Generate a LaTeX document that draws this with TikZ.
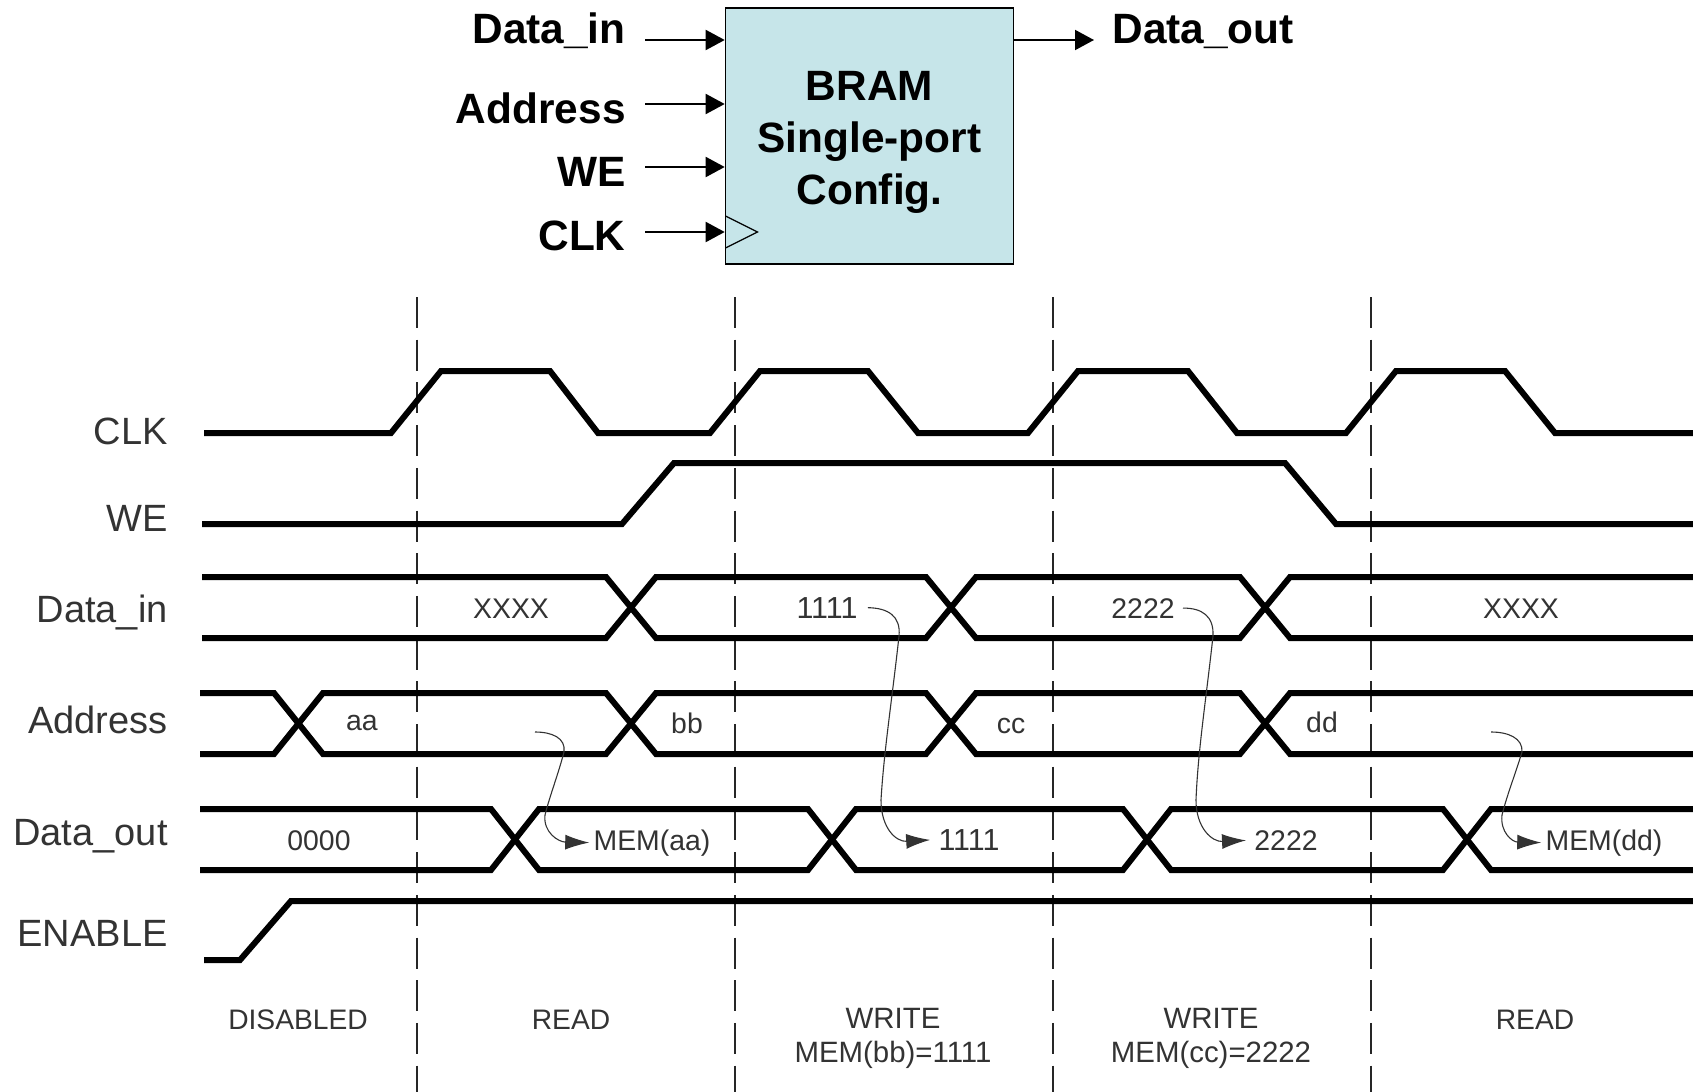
\documentclass[tikz,border=0pt]{standalone}
\usepackage{xcolor}
\usepackage{fontspec}
\setmainfont{Liberation Sans}
\usepackage{tikz}
\usetikzlibrary{arrows.meta,calc}
\definecolor{BoxFill}{HTML}{C6E5E9}
\definecolor{Ink}{HTML}{333333}
\tikzset{
  bram/.style={draw=black,fill=BoxFill,line width=0.8pt,minimum width=144pt,minimum height=128pt,inner sep=0pt},
  bramtext/.style={inner sep=0pt,align=center,font=\fontsize{21.2}{26}\selectfont\bfseries},
  port/.style={inner sep=0pt,font=\fontsize{21.2}{26}\selectfont\bfseries},
  signal/.style={inner sep=0pt,anchor=base east,text=Ink,font=\fontsize{19}{23}\selectfont},
  value/.style={inner sep=1pt,anchor=base,text=Ink,font=\fontsize{14.2}{15.5}\selectfont},
  ones/.style={value,font=\fontsize{15.2}{16}\selectfont},
  phase/.style={inner sep=0pt,anchor=base,align=center,text=Ink,font=\fontsize{14.1}{15.5}\selectfont},
  writephase/.style={phase,font=\fontsize{14.7}{16.7}\selectfont},
  portline/.style={-{Triangle[length=9.5pt,width=10pt]},line width=1pt},
  wave/.style={line width=3pt,miter limit=10},
  boundary/.style={line width=1.2pt,color=black!85,dash pattern=on 15.5pt off 5.85pt},
  cause/.style={-{Latex[length=12pt,width=7.5pt]},line width=0.55pt,color=Ink}
}
\begin{document}
\begin{tikzpicture}[x=0.5pt,y=-0.5pt]
  \useasboundingbox (0,0) rectangle (1693,1092);
  \foreach \xpos in {417,735,1053,1371} {
    \draw[boundary] (\xpos,297) -- (\xpos,1092);
  }
  \node[bram] (box) at (869.5,136) {};
  \node[bramtext] (boxtext) at ($(box.center)+(0,6.5)$) {BRAM\\Single-port\\Config.};
  \node[port,anchor=base east] (dinlabel) at (626,43) {Data\_in};
  \node[port,anchor=base east] (addrlabel) at (626,123) {Address};
  \node[port,anchor=base east] (welabel) at (626,186) {WE};
  \node[port,anchor=base east] (clklabel) at (626,250) {CLK};
  \node[port,anchor=base west] (doutlabel) at (1112,43) {Data\_out};
  \coordinate (dinfrom) at (645,40);
  \coordinate (addrfrom) at (645,104);
  \coordinate (wefrom) at (645,167);
  \coordinate (clkfrom) at (645,232);
  \coordinate (doutto) at (1094,40);
  \draw[portline] (dinfrom) -- (box.west |- dinfrom);
  \draw[portline] (addrfrom) -- (box.west |- addrfrom);
  \draw[portline] (wefrom) -- (box.west |- wefrom);
  \draw[portline] (clkfrom) -- (box.west |- clkfrom);
  \draw[portline] (box.east |- doutto) -- (doutto);
  \draw[line width=0.6pt] (725.5,216) -- (757.5,232) -- (725.5,248);
  \node[signal] (clksig) at (168,444) {CLK};
  \node[signal] (wesig) at (168,531) {WE};
  \node[signal] (dinsig) at (168,622) {Data\_in};
  \node[signal] (addrsig) at (168,733) {Address};
  \node[signal] (doutsig) at (168,845) {Data\_out};
  \node[signal] (ensig) at (168,946) {ENABLE};
  \draw[wave] (204,433) -- (391,433) -- (441,371) -- (550,371) -- (598,433) -- (710,433) -- (760,371) -- (868,371) -- (918,433) -- (1028,433) -- (1078,371) -- (1188,371) -- (1237,433) -- (1346,433) -- (1396,371) -- (1505,371) -- (1555,433) -- (1693,433);
  \draw[wave] (202,524) -- (622,524) -- (674,463) -- (1285,463) -- (1336,524) -- (1693,524);
  \draw[wave] (202,577) -- (606,577) -- (656,638) -- (926,638) -- (976,577) -- (1240,577) -- (1290,638) -- (1693,638);
  \draw[wave] (202,638) -- (606,638) -- (656,577) -- (926,577) -- (976,638) -- (1240,638) -- (1290,577) -- (1693,577);
  \draw[wave] (200,693) -- (274,693) -- (323,754) -- (606,754) -- (656,693) -- (926,693) -- (976,754) -- (1240,754) -- (1290,693) -- (1693,693);
  \draw[wave] (200,754) -- (274,754) -- (323,693) -- (606,693) -- (656,754) -- (926,754) -- (976,693) -- (1240,693) -- (1290,754) -- (1693,754);
  \draw[wave] (200,809) -- (491,809) -- (539,870) -- (808,870) -- (856,809) -- (1123,809) -- (1171,870) -- (1443,870) -- (1491,809) -- (1693,809);
  \draw[wave] (200,870) -- (491,870) -- (539,809) -- (808,809) -- (856,870) -- (1123,870) -- (1171,809) -- (1443,809) -- (1491,870) -- (1693,870);
  \draw[wave] (204,960) -- (240,960) -- (291,901) -- (1693,901);
  \node[value] (dinx) at (511,618) {XXXX};
  \node[ones] (din1) at (827,618) {1111};
  \node[value] (din2) at (1143,618) {2222};
  \node[value] (diny) at (1521,618) {XXXX};
  \node[value] (addra) at (362,730) {aa};
  \node[value] (addrb) at (687,733) {bb};
  \node[value] (addrc) at (1011,733) {cc};
  \node[value] (addrd) at (1322,732) {dd};
  \node[value] (dout0) at (319,850) {0000};
  \node[value] (memaa) at (652,850) {MEM(aa)};
  \node[ones] (dout1) at (969,850) {1111};
  \node[value] (dout2) at (1286,850) {2222};
  \node[value] (memdd) at (1604,850) {MEM(dd)};
  \coordinate (readaa) at (535,732);
  \coordinate (readdd) at (1491,732);
  \draw[cause,shorten >=1pt] (readaa) .. controls (552,732) and (566,738) .. (564,752) .. controls (558,775) and (550,795) .. (545,815) .. controls (543,832) and (558,842) .. (memaa.west);
  \draw[cause,shorten <=4pt,shorten >=3pt] (din1.east) .. controls (888,608) and (901,616) .. (899,636) .. controls (892,700) and (884,750) .. (881,800) .. controls (881,828) and (896,842) .. (dout1.west);
  \draw[cause,shorten <=3pt,shorten >=3pt] (din2.east) .. controls (1202,608) and (1214,616) .. (1213,636) .. controls (1206,700) and (1198,750) .. (1196,800) .. controls (1196,828) and (1212,842) .. (dout2.west);
  \draw[cause,shorten >=1pt] (readdd) .. controls (1508,732) and (1523,738) .. (1522,752) .. controls (1515,775) and (1507,795) .. (1502,815) .. controls (1500,832) and (1512,842) .. (memdd.west);
  \node[phase] (disabled) at (298,1029) {DISABLED};
  \node[phase] (read1) at (571,1029) {READ};
  \node[writephase] (write1) at (893,1062) {WRITE\\MEM(bb)=1111};
  \node[writephase] (write2) at (1211,1062) {WRITE\\MEM(cc)=2222};
  \node[phase] (read2) at (1535,1029) {READ};
\end{tikzpicture}
\end{document}
